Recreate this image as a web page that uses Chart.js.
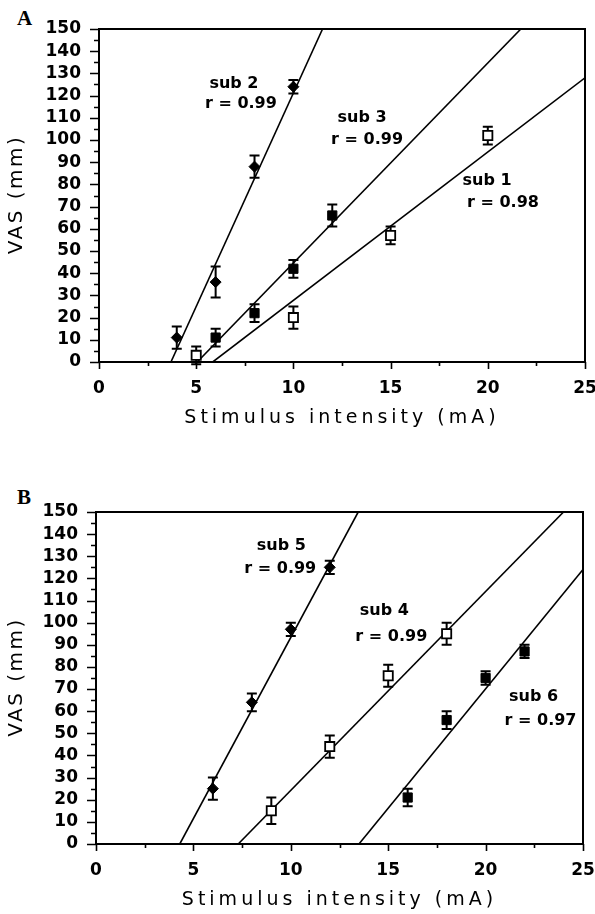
<!DOCTYPE html>
<html><head><meta charset="utf-8">
<script src="https://cdn.jsdelivr.net/npm/chart.js@4.4.1/dist/chart.umd.min.js"></script>
<style>
body{margin:0;background:#fff;width:595px;height:914px;position:relative;overflow:hidden}
canvas{position:absolute;left:0}
.lbl{position:absolute;font:bold 21px "Liberation Serif";color:#000;line-height:1}
</style></head><body>
<div class="lbl" style="left:17px;top:8px">A</div>
<div class="lbl" style="left:17px;top:487px">B</div>
<canvas id="cA" width="595" height="470" style="top:0"></canvas>
<canvas id="cB" width="595" height="444" style="top:470px"></canvas>
<script>
// ---- axis ranges / ticks ----
const xRange = [0, 25];
const yRange = [0, 150];
const xStep = 5, yStep = 10;
const xTitle = 'Stimulus intensity (mA)';
const yTitle = 'VAS (mm)';

// ---- Panel A data ----
const sub1X = [5, 10, 15, 20];
const sub1Y = [3, 20, 57, 102];
const sub1Err = [4, 5, 4, 4];
const sub2X = [4, 6, 8, 10];
const sub2Y = [11, 36, 88, 124];
const sub2Err = [5, 7, 5, 3];
const sub3X = [6, 8, 10, 12];
const sub3Y = [11, 22, 42, 66];
const sub3Err = [4, 4, 4, 5];
// regression line endpoints
const sub1LineX = [5.85, 25], sub1LineY = [0, 128];
const sub2LineX = [3.7, 11.5], sub2LineY = [0, 150];
const sub3LineX = [5.05, 21.7], sub3LineY = [0, 150];

// ---- Panel B data ----
const sub4X = [9, 12, 15, 18];
const sub4Y = [15, 44, 76, 95];
const sub4Err = [6, 5, 5, 5];
const sub5X = [6, 8, 10, 12];
const sub5Y = [25, 64, 97, 125];
const sub5Err = [5, 4, 3, 3];
const sub6X = [16, 18, 20, 22];
const sub6Y = [21, 56, 75, 87];
const sub6Err = [4, 4, 3, 3];
const sub4LineX = [7.3, 24.0], sub4LineY = [0, 150];
const sub5LineX = [4.3, 13.46], sub5LineY = [0, 150];
const sub6LineX = [13.5, 25], sub6LineY = [0, 124];

// annotation texts (data coords)
const notesA = [
  {t:'sub 2', x:6.94, y:125.2}, {t:'r = 0.99', x:7.3, y:116.2},
  {t:'sub 3', x:13.53, y:109.9}, {t:'r = 0.99', x:13.79, y:100},
  {t:'sub 1', x:19.96, y:81.5}, {t:'r = 0.98', x:20.78, y:71.6}
];
const notesB = [
  {t:'sub 5', x:9.51, y:134.7}, {t:'r = 0.99', x:9.46, y:124.3},
  {t:'sub 4', x:14.8, y:105.3}, {t:'r = 0.99', x:15.16, y:93.5},
  {t:'sub 6', x:22.46, y:66.4}, {t:'r = 0.97', x:22.82, y:55.6}
];

const pts = (xs, ys) => xs.map((x, i) => ({x, y: ys[i]}));

function pointDs(xs, ys, err, style, open) {
  return {
    data: pts(xs, ys), err, showLine:false, order:1,
    pointStyle: style, pointRadius: style === 'rectRot' ? 5.5 : 6.5,
    pointBackgroundColor: open ? '#fff' : '#000',
    pointBorderColor: '#000', pointBorderWidth: open ? 1.8 : 1
  };
}
function lineDs(xs, ys) {
  return {data: pts(xs, ys), showLine:true, pointRadius:0, borderColor:'#000',
          borderWidth:1.6, order:3, fill:false};
}

const deco = {
  id:'deco',
  beforeDatasetsDraw(chart) {
    const ctx = chart.ctx, xs = chart.scales.x, ys = chart.scales.y;
    ctx.save();
    ctx.strokeStyle = '#000'; ctx.lineWidth = 2;
    chart.data.datasets.forEach(ds => {
      if (!ds.err) return;
      ds.data.forEach((p, i) => {
        const x = xs.getPixelForValue(p.x);
        const y1 = ys.getPixelForValue(p.y - ds.err[i]);
        const y2 = ys.getPixelForValue(p.y + ds.err[i]);
        ctx.beginPath();
        ctx.moveTo(x, y1); ctx.lineTo(x, y2);
        ctx.moveTo(x - 5, y1); ctx.lineTo(x + 5, y1);
        ctx.moveTo(x - 5, y2); ctx.lineTo(x + 5, y2);
        ctx.stroke();
      });
    });
    ctx.restore();
  },
  afterDraw(chart) {
    const ctx = chart.ctx, a = chart.chartArea, xs = chart.scales.x, ys = chart.scales.y;
    const o = chart.options.plugins.deco;
    ctx.save();
    ctx.strokeStyle = '#000'; ctx.lineWidth = 2;
    ctx.strokeRect(a.left, a.top, a.right - a.left, a.bottom - a.top);
    ctx.lineWidth = 1.6;
    ctx.beginPath();
    for (let v = yRange[0]; v <= yRange[1]; v += yStep / 2) {
      const y = Math.round(ys.getPixelForValue(v)) + 0.5;
      const len = (v % yStep === 0) ? 9 : 5;
      ctx.moveTo(a.left - len, y); ctx.lineTo(a.left, y);
    }
    for (let v = xRange[0]; v <= xRange[1]; v += xStep / 2) {
      const x = Math.round(xs.getPixelForValue(v)) + 0.5;
      const len = (v % xStep === 0) ? 7 : 4;
      ctx.moveTo(x, a.bottom); ctx.lineTo(x, a.bottom + len);
    }
    ctx.stroke();
    // annotations
    ctx.fillStyle = '#000';
    ctx.font = 'bold 16px "DejaVu Sans"';
    ctx.textAlign = 'center'; ctx.textBaseline = 'middle';
    o.notes.forEach(n => ctx.fillText(n.t, xs.getPixelForValue(n.x), ys.getPixelForValue(n.y)));
    // axis titles
    ctx.font = '19px "DejaVu Sans"';
    ctx.letterSpacing = '4px';
    ctx.fillText(xTitle, (a.left + a.right) / 2, a.bottom + 56);
    ctx.save();
    ctx.translate(17, (a.top + a.bottom) / 2);
    ctx.rotate(-Math.PI / 2);
    ctx.font = '20px "DejaVu Sans"';
    ctx.letterSpacing = '2.5px';
    ctx.fillText(yTitle, 1, 0);
    ctx.restore();
    ctx.restore();
  }
};

function makeChart(id, datasets, notes, cfg) {
  const tickFont = {family:'DejaVu Sans', size:17, weight:'bold'};
  return new Chart(document.getElementById(id), {
    type:'scatter',
    data:{datasets},
    options:{
      responsive:false, animation:false, devicePixelRatio:1,
      layout:{padding:{left:0, top:cfg.top, right:cfg.right, bottom:0}},
      plugins:{legend:{display:false}, tooltip:{enabled:false}, deco:{notes}},
      scales:{
        x:{type:'linear', min:xRange[0], max:xRange[1],
           ticks:{stepSize:xStep, padding:16, color:'#000', font:tickFont, maxRotation:0, autoSkip:false},
           grid:{display:false, drawTicks:false}, border:{display:false},
           afterFit(s){ s.height = cfg.xh; s.paddingLeft = 0; s.paddingRight = 0; }},
        y:{type:'linear', min:yRange[0], max:yRange[1],
           ticks:{stepSize:yStep, padding:18, color:'#000', font:tickFont, autoSkip:false},
           grid:{display:false, drawTicks:false}, border:{display:false},
           afterFit(s){ s.width = cfg.yw; s.paddingTop = 0; s.paddingBottom = 0; }}
      }
    },
    plugins:[deco]
  });
}

makeChart('cA', [
  lineDs(sub1LineX, sub1LineY), lineDs(sub2LineX, sub2LineY), lineDs(sub3LineX, sub3LineY),
  pointDs(sub1X, sub1Y, sub1Err, 'rect', true),
  pointDs(sub2X, sub2Y, sub2Err, 'rectRot', false),
  pointDs(sub3X, sub3Y, sub3Err, 'rect', false)
], notesA, {top:29, right:10, xh:108, yw:99});

makeChart('cB', [
  lineDs(sub4LineX, sub4LineY), lineDs(sub5LineX, sub5LineY), lineDs(sub6LineX, sub6LineY),
  pointDs(sub4X, sub4Y, sub4Err, 'rect', true),
  pointDs(sub5X, sub5Y, sub5Err, 'rectRot', false),
  pointDs(sub6X, sub6Y, sub6Err, 'rect', false)
], notesB, {top:42, right:12, xh:70, yw:96});
</script>
</body></html>
